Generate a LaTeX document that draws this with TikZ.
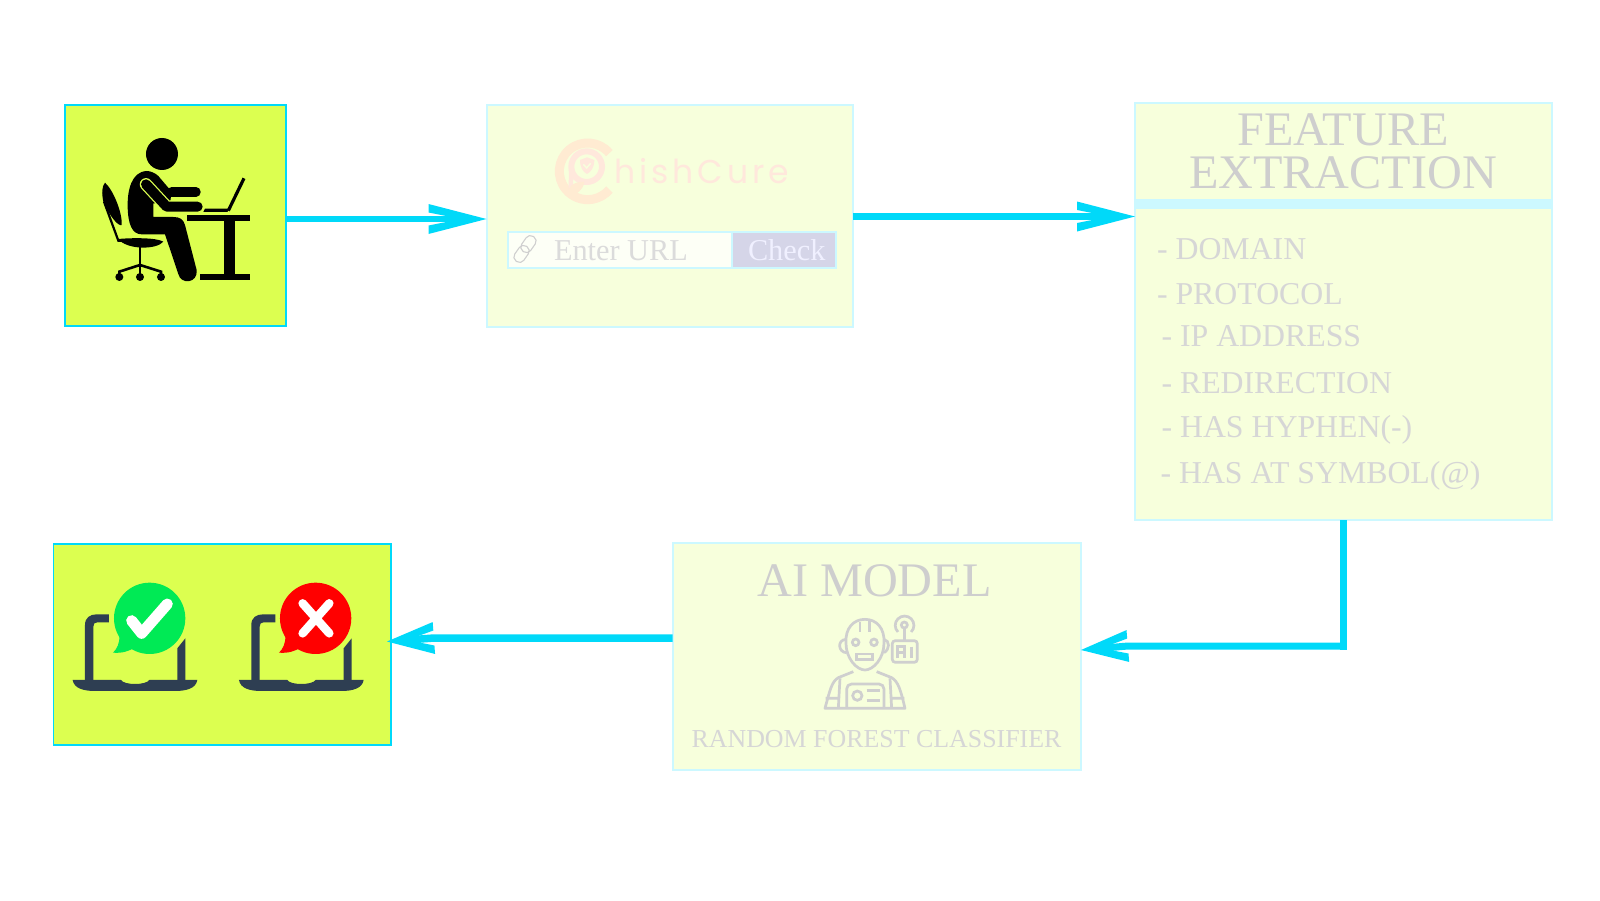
\documentclass[tikz,border=0pt]{standalone}
\usepackage{fontspec}
\setmainfont{Liberation Serif}
\newfontfamily\logofont[LetterSpace=12.2]{Poppins}
\definecolor{limefill}{HTML}{DCFF50}
\definecolor{palefill}{HTML}{F7FFDC}
\definecolor{paleedge}{HTML}{CCF8FF}
\definecolor{arrowc}{HTML}{00D9F9}
\definecolor{headtext}{HTML}{CECECE}
\definecolor{listtext}{HTML}{D6D6D6}
\definecolor{iconline}{HTML}{CFCFCF}
\definecolor{logoa}{HTML}{FFEBD2}
\definecolor{logob}{HTML}{FFE8DC}
\definecolor{lapc}{HTML}{2E3E52}
\definecolor{okgreen}{HTML}{00EA55}
\definecolor{btnfill}{HTML}{D5D5E8}
\newcommand\mkbarb[4]{%
\pgfdeclarearrow{name=#1,
 setup code={\pgfarrowssettipend{0pt}\pgfarrowssetlineend{-15pt}\pgfarrowssetbackend{-#2pt}\pgfarrowssetvisualbackend{-15pt}},
 drawing code={\pgfsetfillcolor{arrowc}%
  \pgfpathmoveto{\pgfqpoint{0pt}{0pt}}%
  \pgfpathlineto{\pgfqpoint{-#2pt}{#3pt}}%
  \pgfpathlineto{\pgfpointadd{\pgfqpoint{-#2pt}{#3pt}}{\pgfqpoint{0pt}{-8.5pt}}}%
  \pgfpathlineto{\pgfpointadd{\pgfqpoint{-#2pt}{0pt}}{\pgfqpoint{#4pt}{0pt}}}%
  \pgfpathlineto{\pgfpointadd{\pgfqpoint{-#2pt}{-#3pt}}{\pgfqpoint{0pt}{8.5pt}}}%
  \pgfpathlineto{\pgfqpoint{-#2pt}{-#3pt}}%
  \pgfpathclose\pgfusepathqfill}}}
\mkbarb{BarbLong}{58}{15}{33}
\mkbarb{BarbShort}{47}{16}{27}
\tikzset{
 box/.style={rectangle,anchor=north west,inner sep=0pt,outer sep=0pt},
 limebox/.style={box,fill=limefill,draw=arrowc,line width=2pt},
 palebox/.style={box,fill=palefill,draw=paleedge,line width=2pt},
 flow/.style={draw=arrowc,line width=7.5pt},
 label/.style={inner sep=0pt,outer sep=0pt,anchor=base west},
 headlabel/.style={label,text=headtext,font=\fontsize{48.2}{48.2}\selectfont},
 itemlabel/.style={label,text=listtext,font=\fontsize{31.8}{31.8}\selectfont},
 iconstroke/.style={draw=iconline,line width=2.7pt,fill=none},
}
\begin{document}
\begin{tikzpicture}[x=1pt,y=-1pt]
\useasboundingbox (0,0) rectangle (1600,900);
% boxes
\node[limebox,minimum width=220.5pt,minimum height=221pt] (user) at (65,105) {};
\node[palebox,minimum width=366.5pt,minimum height=222pt] (web) at (486.5,105) {};
\node[palebox,minimum width=417pt,minimum height=417pt] (feat) at (1135,103) {};
\node[palebox,minimum width=408.5pt,minimum height=227pt] (ai) at (672.5,543) {};
\node[limebox,line width=1.3pt,minimum width=337.5pt,minimum height=201pt] (res) at (53.5,544) {};
% feature bar
\fill[paleedge] (1135,199) rectangle (1552,209);
% connectors
\draw[flow,line width=5.5pt,-{BarbLong}] ([yshift=-3.5pt]user.east) -- ([yshift=-3pt]web.west);
\draw[flow,-{BarbLong}] (web.east |- 0,216.5) -- (feat.west |- 0,216.5);
\coordinate (elbow) at (feat.south |- 0,649.5);
\draw[flow,line width=7pt] (feat.south) -- (elbow);
\draw[flow,line width=7pt,-{BarbShort}] ([yshift=3.5pt]elbow) -- (1128,646) -- (ai.east |- 0,650);
\draw[flow,-{BarbShort}] (ai.west |- 0,638) -- (434,638) -- (387,641.5);
% feature text
\node[headlabel,anchor=base] (ft1) at (1343,145) {FEATURE};
\node[headlabel,anchor=base] (ft2) at (1343,188) {EXTRACTION};
\node[itemlabel] (i1) at (1157,259.5) {- DOMAIN};
\node[itemlabel] (i2) at (1157,304.5) {- PROTOCOL};
\node[itemlabel] (i3) at (1161.5,346) {- IP ADDRESS};
\node[itemlabel] (i4) at (1161.5,393) {- REDIRECTION};
\node[itemlabel] (i5) at (1161.5,437) {- HAS HYPHEN(-)};
\node[itemlabel] (i6) at (1160.5,483) {- HAS AT SYMBOL(@)};
% AI text
\node[headlabel,anchor=base] (ait) at (874.5,596) {AI MODEL};
\node[label,anchor=base,text=listtext,font=\fontsize{25.9}{25.9}\selectfont] (rf) at (876.5,747) {RANDOM FOREST CLASSIFIER};
% web card
\node[box,fill=white!75!palefill,draw=paleedge,line width=1.5pt,minimum width=224pt,minimum height=36pt] (url) at (508,232) {};
\node[box,fill=btnfill,draw=paleedge,line width=1.5pt,minimum width=104pt,minimum height=36pt] (btn) at (732,232) {};
\node[label,text=black!14!white,font=\fontsize{30.3}{30.3}\selectfont] (et) at (554,260) {Enter URL};
\node[label,text=white!94!blue,font=\fontsize{30.3}{30.3}\selectfont] (ck) at (748,260) {Check};
\begin{scope}[shift={(525,249)},rotate=55]
 \draw[draw=iconline,line width=1.1pt,rounded corners=5pt] (-15,-5.5) rectangle (3,5.5);
 \draw[draw=iconline,line width=1.1pt,rounded corners=5pt] (-3,-5.5) rectangle (15,5.5);
\end{scope}
% logo
\begin{scope}[shift={(545,130)},scale=0.3333]
 \draw[logoa,line width=9pt] (128+85*0.766,124-85*0.643) arc[start angle=-40,end angle=-320,radius=85];
 \draw[logob,line width=6pt] (125,110) circle[radius=46];
 \draw[logob,line width=4.5pt] (79,110) -- (77,190);
 \fill[logob] (105,90) -- (126,82) -- (148,90) .. controls (148,112) and (138,126) .. (126,132) .. controls (114,126) and (105,112) .. (105,90) -- cycle;
 \draw[palefill,line width=1.4pt] (115,103) -- (125,114) -- (137,100);
 \fill[logoa] (70,198) .. controls (65,170) and (85,155) .. (118,155) .. controls (115,180) and (95,195) .. (70,198) -- cycle;
\end{scope}
\node[label,text=logob,font=\logofont\fontsize{33}{33}\selectfont] (logo) at (614,183) {hishCure};
% user icon
\begin{scope}[shift={(50,90)},scale=0.3333]
 \fill (336,192) circle[radius=48];
 \fill (290,243) .. controls (245,245) and (232,300) .. (233,350) .. controls (234,400) and (245,433) .. (275,433) -- (345,433) -- (385,552) .. controls (392,585) and (445,580) .. (440,540) -- (405,405) .. controls (400,388) and (390,381) .. (370,381) -- (310,381) -- (310,340) -- (360,340) -- (365,305) -- (325,258) .. controls (315,248) and (300,243) .. (290,243) -- cycle;
 \draw[line width=9.5pt,line cap=round] (365,306) -- (438,306);
 \draw[limefill,line width=12.5pt,line cap=round,line join=round] (288,283) -- (350,350) -- (400,350);
 \draw[black,line width=10pt,line cap=round,line join=round] (288,283) -- (350,350) -- (443,350);
 % desk
 \fill (410,376) rectangle (600,394);
 \fill (522,394) rectangle (556,552);
 \fill (449,552) rectangle (600,570);
 % laptop
 \draw[line width=3.2pt] (535,362) -- (582,265);
 \fill (465,356) -- (540,356) -- (532,366) -- (460,366) -- cycle;
 % chair
 \fill (165,278) .. controls (190,300) and (218,370) .. (215,405) .. controls (205,410) and (180,380) .. (160,335) .. controls (155,310) and (155,290) .. (165,278) -- cycle;
 \draw[line width=2.2pt] (162,335) -- (205,452) -- (240,452);
 \fill (205,447) .. controls (250,443) and (320,443) .. (340,455) .. controls (320,480) and (230,480) .. (205,447) -- cycle;
 \draw[line width=2.6pt] (270,470) -- (270,555);
 \draw[line width=2.6pt] (208,553) -- (208,545) -- (270,525) -- (333,545) -- (333,553);
 \foreach \cx in {208,270,333} \fill (\cx,561) circle[radius=12];
\end{scope}
% robot icon
\begin{scope}[shift={(660,530)},scale=0.3333]
 \draw[iconstroke,line join=round] (558,340) .. controls (555,295) and (580,268) .. (615,268) .. controls (650,268) and (675,295) .. (672,340) .. controls (672,385) and (640,420) .. (615,420) .. controls (590,420) and (558,385) .. (558,340) -- cycle;
 \draw[iconstroke] (558,328) .. controls (530,330) and (535,368) .. (560,368);
 \draw[iconstroke] (672,328) .. controls (690,332) and (690,358) .. (672,368);
 \draw[iconstroke] (600,275) -- (600,305);
 \draw[iconstroke] (628,272) -- (628,305);
 \draw[iconstroke] (587,337) circle[radius=10];
 \draw[iconstroke] (642,337) circle[radius=10];
 \draw[iconstroke] (590,372) rectangle (638,388);
 \draw[iconstroke,rounded corners=3pt] (697,332) rectangle (772,397);
 \draw[iconstroke] (733,285) circle[radius=9];
 \draw[iconstroke] (733,295) -- (733,332);
 \draw[iconstroke] (714,306) arc[start angle=135,end angle=405,radius=28];
 \draw[iconstroke,line width=2.4pt] (712,385) -- (712,350) -- (733,350) -- (733,385) (712,368) -- (733,368) (755,350) -- (755,385);
 \draw[iconstroke,line join=round] (580,425) -- (535,443) .. controls (515,455) and (510,480) .. (495,535) -- (735,535) .. controls (722,480) and (715,455) .. (695,443) -- (650,425);
 \draw[iconstroke] (540,445) -- (535,535) (690,445) -- (695,535) (497,505) -- (535,505) (695,505) -- (733,505);
 \draw[iconstroke,rounded corners=5pt] (560,535) -- (560,462) -- (672,462) -- (672,535);
 \draw[iconstroke] (592,497) circle[radius=14];
 \draw[iconstroke] (620,482) -- (660,482) (620,512) -- (660,512);
\end{scope}
% result icons
\begin{scope}[shift={(40,530)},scale=0.3333]
 \foreach \dx in {0,499}{
 \begin{scope}[shift={(\dx,0)}]
  \fill[lapc] (135,452) -- (135,285) .. controls (135,263) and (150,253) .. (170,253) -- (207,253) -- (207,277) -- (172,277) .. controls (164,277) and (160,281) .. (160,290) -- (160,452) -- cycle;
  \fill[lapc] (412,452) -- (412,355) -- (436,325) -- (436,452) -- cycle;
  \fill[lapc] (98,450) -- (243,450) .. controls (252,466) and (318,466) .. (328,450) -- (472,450) .. controls (468,475) and (440,483) .. (405,483) -- (165,483) .. controls (130,483) and (102,475) .. (98,450) -- cycle;
 \end{scope}}
 \fill[okgreen] (329,265) circle[radius=107];
 \fill[okgreen] (238,315) .. controls (240,340) and (230,358) .. (219,368) .. controls (245,370) and (265,365) .. (285,352) -- cycle;
 \draw[white,line width=11pt,line cap=round,line join=round] (275,272) -- (305,310) -- (382,222);
 \fill[red] (827,265) circle[radius=107];
 \fill[red] (736,315) .. controls (738,340) and (728,358) .. (717,368) .. controls (743,370) and (763,365) .. (783,352) -- cycle;
 \draw[white,line width=8.5pt,line cap=round] (788,220) -- (868,310) (868,220) -- (788,310);
\end{scope}
\end{tikzpicture}
\end{document}
